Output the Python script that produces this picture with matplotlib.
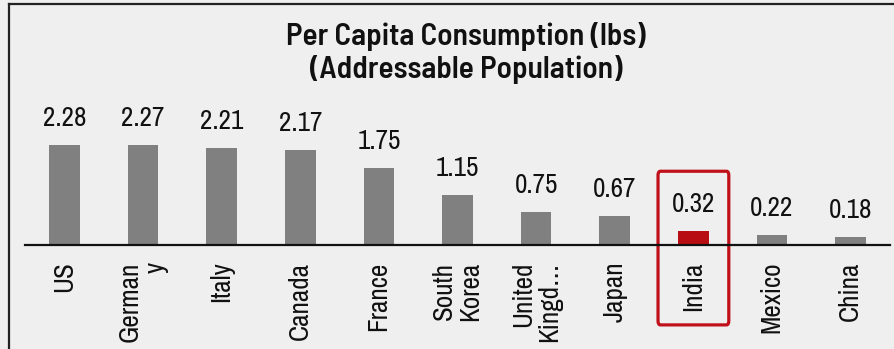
import matplotlib
matplotlib.use("Agg")
import matplotlib.pyplot as plt
from matplotlib.patches import FancyBboxPatch
from matplotlib.lines import Line2D

countries = ["US", "German\ny", "Italy", "Canada", "France", "South\nKorea",
             "United\nKingd\u2026", "Japan", "India", "Mexico", "China"]
consumption = [2.28, 2.27, 2.21, 2.17, 1.75, 1.15, 0.75, 0.67, 0.32, 0.22, 0.18]
highlight = "India"

plt.rcParams['font.family'] = ['Archivo Narrow', 'DejaVu Sans']

bg = "#efefef"
fig = plt.figure(figsize=(8.94, 3.49), dpi=100, facecolor=bg)
W, H = 894, 349

# axes placed so the baseline sits ~245px from the top
ax_left, ax_right = 25, 890
ax_bottom, ax_top = 245, 95
ax = fig.add_axes([ax_left / W, 1 - ax_bottom / H,
                   (ax_right - ax_left) / W, (ax_bottom - ax_top) / H])
ax.set_facecolor(bg)

colors = ["#b80d12" if c == highlight else "#808080" for c in countries]
x = list(range(len(countries)))
bars = ax.bar(x, consumption, width=0.39, color=colors)

ax.set_xlim(-0.5, len(countries) - 0.5)
ax.set_ylim(0, 150 / 43.9)

for rect, v in zip(bars, consumption):
    ax.annotate(f"{v:.2f}", (rect.get_x() + rect.get_width() / 2, v),
                xytext=(0, 10), textcoords="offset points",
                ha="center", va="bottom", fontsize=19.5, color="#111111")

for s in ["top", "right", "left"]:
    ax.spines[s].set_visible(False)
ax.spines["bottom"].set_linewidth(1.6)
ax.spines["bottom"].set_color("#111111")
ax.set_yticks([])
ax.set_xticks(x)
ax.set_xticklabels(countries, rotation=90, ha="center", va="top",
                   multialignment="right", fontsize=19.5, color="#111111",
                   linespacing=1.05)
ax.tick_params(axis="x", length=0, pad=12)

# red box around the highlighted country
i = countries.index(highlight)
box = FancyBboxPatch((i - 0.45, -1.82), 0.9, 3.5,
                     boxstyle="round,pad=0,rounding_size=0.03",
                     fill=False, edgecolor="#c0101a", linewidth=2.3,
                     clip_on=False, mutation_aspect=3)
ax.add_patch(box)

fig.text(466 / W, 1 - 53 / H,
         "Per Capita Consumption (lbs)\n(Addressable Population)",
         ha="center", va="center", fontsize=22.5, fontweight=600,
         family=["Barlow Semi Condensed", "Archivo Narrow", "DejaVu Sans"],
         color="#111111", linespacing=1.2)

# outer frame: left and top edges
fig.add_artist(Line2D([9 / W, 9 / W], [0, 1 - 4 / H], color="#222222",
                      linewidth=1.6, transform=fig.transFigure))
fig.add_artist(Line2D([9 / W, 1], [1 - 4 / H, 1 - 4 / H], color="#222222",
                      linewidth=1.6, transform=fig.transFigure))

fig.savefig("out.png", dpi=100, facecolor=bg)
